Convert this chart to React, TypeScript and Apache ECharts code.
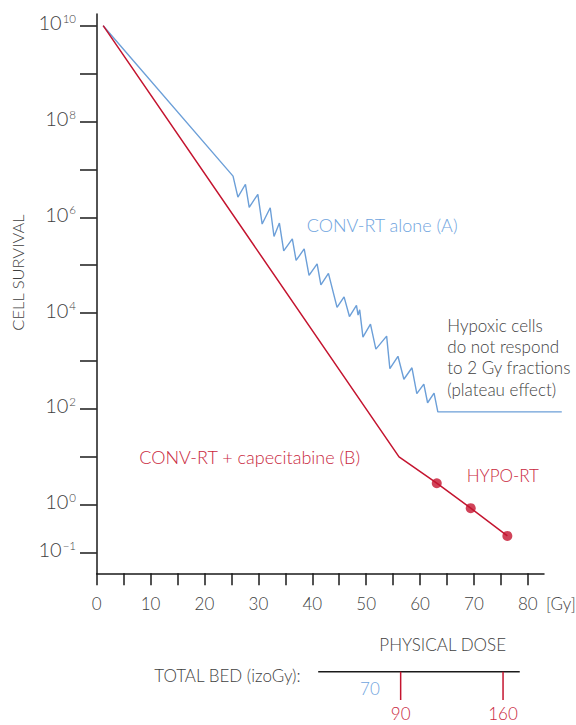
import React, { useEffect, useRef } from 'react';
import * as echarts from 'echarts';

// ---- data ----
// CONV-RT alone (A): physical dose [Gy] and log10(cell survival)
const blueDose = [1.2, 25.3, 26.2, 27.6, 28.3, 29.9, 30.7, 32.2, 32.9, 33.9, 34.7, 36.3, 37.0, 38.5, 39.4, 40.9, 41.6, 43.0, 44.6, 45.9, 46.9, 48.2, 48.5, 48.8, 49.4, 50.8, 51.8, 53.8, 54.4, 55.9, 57.0, 58.5, 59.4, 60.7, 61.4, 62.6, 63.3, 86.3];
const blueLogSurvival = [10, 6.86, 6.42, 6.69, 6.21, 6.48, 5.86, 6.2, 5.6, 5.88, 5.3, 5.55, 5.1, 5.34, 4.79, 5.03, 4.59, 4.83, 4.12, 4.34, 3.93, 4.16, 3.96, 4.07, 3.5, 3.77, 3.25, 3.52, 2.84, 3.1, 2.62, 2.86, 2.32, 2.52, 2.13, 2.33, 1.94, 1.94];

// CONV-RT + capecitabine (B) continued by HYPO-RT
const redDose = [1.2, 56.1, 63.1, 69.4, 76.2];
const redLogSurvival = [10, 1.0, 0.45, -0.07, -0.65];

// HYPO-RT points
const hypoDose = [63.1, 69.4, 76.2];
const hypoLogSurvival = [0.45, -0.07, -0.65];

// axes
const xMin = 0;
const xMax = 83;
const xMaxExtended = 86.5; // the plateau line runs past the end of the drawn axis
const yMinExp = -1.43;
const yMaxExp = 10.244;
const xTickValues = [0, 5, 10, 15, 20, 25, 30, 35, 40, 45, 50, 55, 60, 65, 70, 75, 80];
const xLabelValues = [0, 10, 20, 30, 40, 50, 60, 70, 80];
const yTickValues = [0.1, 1, 1e1, 1e2, 1e3, 1e4, 1e5, 1e6, 1e7, 1e8, 1e9, 1e10];
const yLabelValues = [0.1, 1, 1e2, 1e4, 1e6, 1e8, 1e10];

// TOTAL BED scale (positions expressed in physical dose)
const bedLineDose = [41.1, 78.5];
const bedTickDose = [56.4, 75.4];
const bedTickLabels = ['90', '160'];
const bedBlueDose = [50.7];
const bedBlueLabels = ['70'];

const FONT = 'Lato, "Open Sans", sans-serif';
const WEIGHT = 300;
const GREY = '#3f3f3f';
const AXIS = '#1a1a1a';
const BLUE_LINE = '#6c9fd8';
const BLUE_TEXT = '#6fa4de';
const RED_LINE = '#c4142f';
const RED_TEXT = '#c92840';

const pairs = (xs: number[], es: number[]) => xs.map((x, i) => [x, Math.pow(10, es[i])]);

export default function App() {
  const ref = useRef<HTMLDivElement>(null);

  useEffect(() => {
    document.body.style.margin = '0';
    if (!ref.current) return;
    const chart = echarts.init(ref.current, undefined, { renderer: 'svg' });

    const labelMargin = 22;
    const gridLeft = 96.7;
    const gridRightPx = 544;
    const pxPerGy = (gridRightPx - gridLeft) / (xMax - xMin);
    const gridRightExtPx = gridLeft + (xMaxExtended - xMin) * pxPerGy;

    const hiddenAxis = {
      show: false,
      splitLine: { show: false },
    };

    const option: any = {
      animation: false,
      backgroundColor: '#ffffff',
      grid: [
        { left: gridLeft, right: 576 - gridRightPx, top: 14, bottom: 151.7, containLabel: false, outerBoundsMode: 'none' },
        { left: gridLeft, right: 576 - gridRightExtPx, top: 14, bottom: 151.7, containLabel: false, outerBoundsMode: 'none' },
      ],
      xAxis: [
        {
          type: 'value',
          gridIndex: 0,
          min: xMin,
          max: xMax,
          name: '[Gy]',
          nameLocation: 'end',
          nameGap: 2,
          nameTextStyle: {
            fontFamily: FONT,
            fontWeight: WEIGHT,
            fontSize: 17,
            color: GREY,
            verticalAlign: 'top',
            padding: [labelMargin, 0, 0, 0],
          },
          axisLine: { show: true, onZero: false, lineStyle: { color: AXIS, width: 1.5 } },
          axisTick: { show: true, length: 12, customValues: xTickValues, lineStyle: { color: AXIS, width: 1.5 } },
          axisLabel: {
            customValues: xLabelValues,
            margin: labelMargin,
            fontFamily: FONT,
            fontWeight: WEIGHT,
            fontSize: 17,
            color: GREY,
          },
          splitLine: { show: false },
        },
        { type: 'value', gridIndex: 1, min: xMin, max: xMaxExtended, ...hiddenAxis },
      ],
      yAxis: [
        {
          type: 'log',
          gridIndex: 0,
          logBase: 10,
          min: Math.pow(10, yMinExp),
          max: Math.pow(10, yMaxExp),
          axisLine: { show: true, onZero: false, lineStyle: { color: AXIS, width: 1.5 } },
          axisTick: { show: true, length: 16.7, customValues: yTickValues, lineStyle: { color: AXIS, width: 1.5 } },
          axisLabel: {
            customValues: yLabelValues,
            margin: 20.7,
            padding: [0, 0, 7, 0],
            formatter: (v: number) => {
              const e = Math.round(Math.log10(v));
              return `{b|10}{s|${e < 0 ? '\u2212' + -e : e}}`;
            },
            rich: {
              b: { fontFamily: FONT, fontWeight: WEIGHT, fontSize: 20, color: GREY, lineHeight: 20 },
              s: { fontFamily: FONT, fontWeight: WEIGHT, fontSize: 11.5, color: GREY, verticalAlign: 'top', lineHeight: 12, padding: [0, 0, 0, 1] },
            },
          },
          splitLine: { show: false },
        },
        {
          type: 'log',
          gridIndex: 1,
          logBase: 10,
          min: Math.pow(10, yMinExp),
          max: Math.pow(10, yMaxExp),
          ...hiddenAxis,
        },
      ],
      series: [
        {
          name: 'CONV-RT alone (A)',
          type: 'line',
          xAxisIndex: 1,
          yAxisIndex: 1,
          data: pairs(blueDose, blueLogSurvival),
          showSymbol: false,
          symbol: 'none',
          lineStyle: { color: BLUE_LINE, width: 1.4 },
        },
        {
          name: 'CONV-RT + capecitabine (B)',
          type: 'line',
          data: pairs(redDose, redLogSurvival),
          showSymbol: false,
          symbol: 'none',
          clip: false,
          lineStyle: { color: RED_LINE, width: 1.5 },
        },
        {
          name: 'HYPO-RT',
          type: 'scatter',
          data: pairs(hypoDose, hypoLogSurvival),
          symbol: 'circle',
          symbolSize: 10,
          clip: false,
          itemStyle: { color: RED_LINE },
        },
      ],
    };

    chart.setOption(option);

    const px = (d: number) => chart.convertToPixel({ xAxisIndex: 0 }, d) as number;

    const txt = (text: string, x: number, y: number, fill: string, fontSize: number, extra: any = {}) => ({
      type: 'text',
      x,
      y,
      silent: true,
      ...extra,
      style: {
        text,
        fill,
        fontSize,
        fontFamily: FONT,
        fontWeight: WEIGHT,
        align: 'left',
        verticalAlign: 'middle',
        ...(extra.style || {}),
      },
    });

    const bedY = 671.7;
    const graphics: any[] = [
      txt('CONV-RT alone (A)', 306.7, 225, BLUE_TEXT, 18),
      txt('Hypoxic cells\ndo not respond\nto 2 Gy fractions\n(plateau effect)', 447.3, 314.5, GREY, 17, {
        style: { verticalAlign: 'top', lineHeight: 21.3 },
      }),
      txt('CONV-RT + capecitabine (B)', 139.3, 456.7, RED_TEXT, 18),
      txt('HYPO-RT', 466.7, 475, RED_TEXT, 17),
      txt('CELL SURVIVAL', 18.3, 272.5, GREY, 16.5, { rotation: Math.PI / 2, style: { align: 'center' } }),
      txt('PHYSICAL DOSE', 379.3, 644, GREY, 17),
      txt('TOTAL BED (izoGy):', 154.3, 675, GREY, 17),
      {
        type: 'line',
        silent: true,
        shape: { x1: px(bedLineDose[0]), y1: bedY, x2: px(bedLineDose[1]), y2: bedY },
        style: { stroke: AXIS, lineWidth: 1.5 },
      },
    ];
    bedTickDose.forEach((d, i) => {
      const x = px(d);
      graphics.push({
        type: 'line',
        silent: true,
        shape: { x1: x, y1: bedY, x2: x, y2: 700 },
        style: { stroke: RED_LINE, lineWidth: 1.5 },
      });
      graphics.push(txt(bedTickLabels[i], x, 713.3, RED_TEXT, 17, { style: { align: 'center' } }));
    });
    bedBlueDose.forEach((d, i) => {
      graphics.push(txt(bedBlueLabels[i], px(d), 688.3, BLUE_TEXT, 17, { style: { align: 'center' } }));
    });

    chart.setOption({ graphic: graphics });

    return () => chart.dispose();
  }, []);

  return <div ref={ref} style={{ width: 576, height: 725 }} />;
}
